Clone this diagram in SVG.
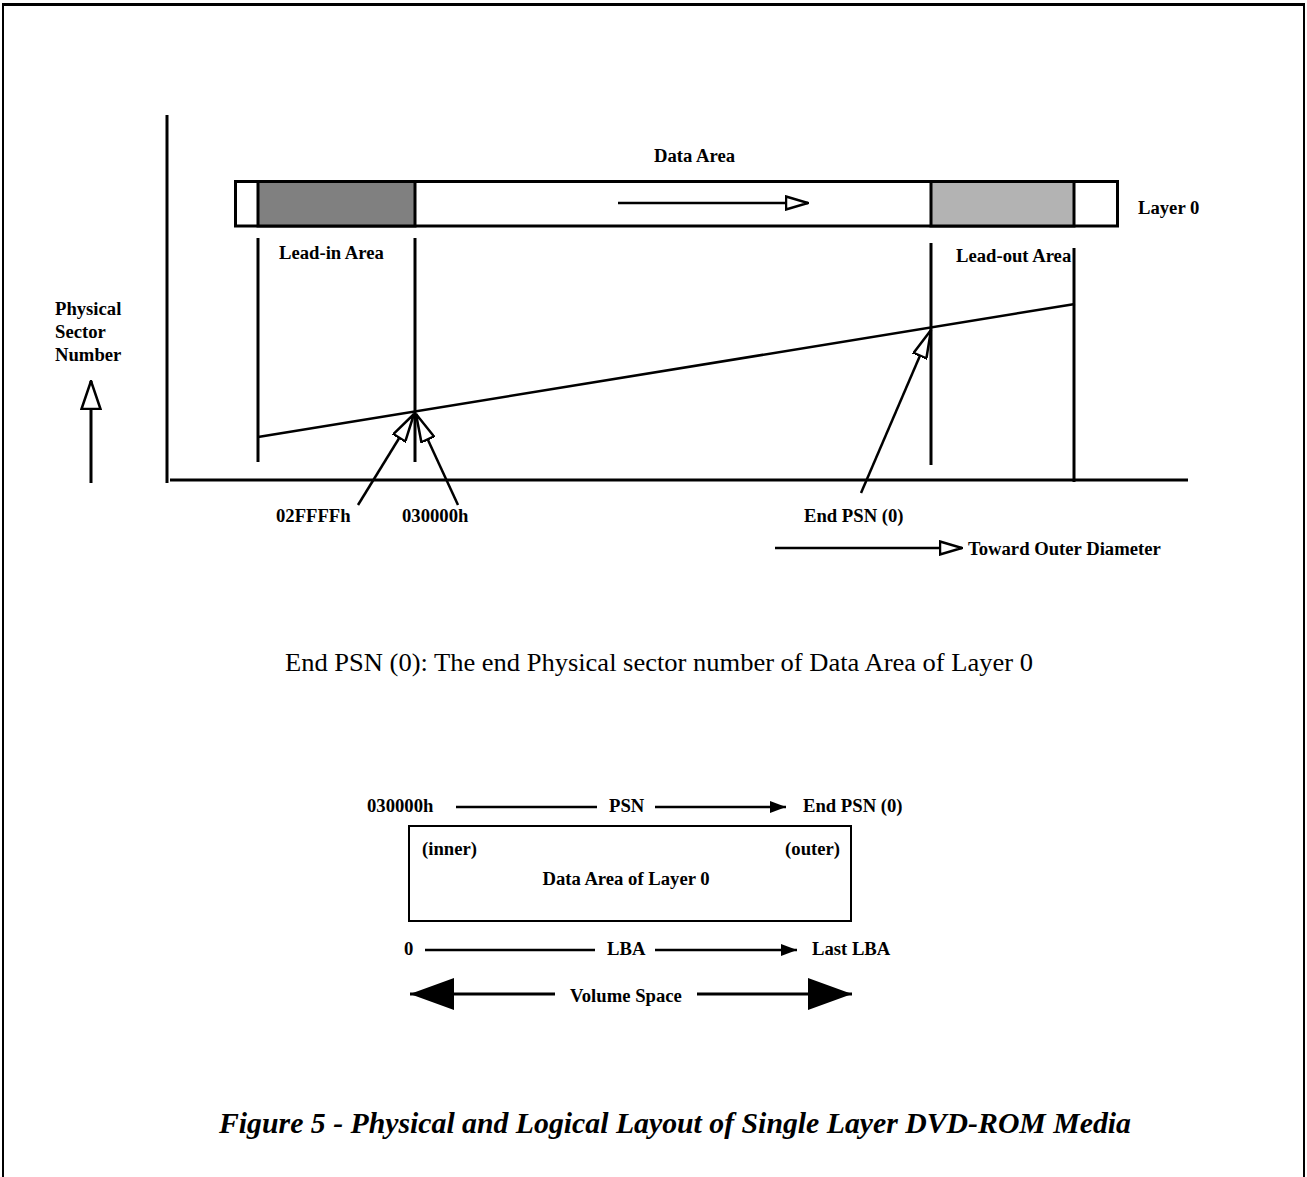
<svg xmlns="http://www.w3.org/2000/svg" width="1307" height="1177" viewBox="0 0 1307 1177">
  <defs>
    <style>
      .lbl { font-family: "Liberation Serif", "Times New Roman", serif; font-weight: bold; font-size: 18.67px; fill: #000; }
      .note { font-family: "Liberation Serif", "Times New Roman", serif; font-size: 26px; fill: #000; }
      .cap { font-family: "Liberation Serif", "Times New Roman", serif; font-weight: bold; font-style: italic; font-size: 29.33px; fill: #000; }
      .ln { stroke: #000; stroke-width: 3; fill: none; }
      .thin { stroke: #000; stroke-width: 2.5; fill: none; }
      .frame { stroke: #000; fill: none; }
    </style>
    <!-- open (hollow) arrowhead used on the upper chart -->
    <marker id="hollow" markerUnits="userSpaceOnUse" viewBox="0 0 30 16" refX="29" refY="8" markerWidth="30" markerHeight="16" orient="auto">
      <path d="M1,1 L29,8 L1,15 Z" fill="#fff" stroke="#000" stroke-width="2.5" stroke-linejoin="miter"/>
    </marker>
    <marker id="hollowSmall" markerUnits="userSpaceOnUse" viewBox="0 0 24 16" refX="23" refY="8" markerWidth="24" markerHeight="16" orient="auto">
      <path d="M1,1.5 L23,8 L1,14.5 Z" fill="#fff" stroke="#000" stroke-width="2.5"/>
    </marker>
    <marker id="hollowWide" markerUnits="userSpaceOnUse" viewBox="0 0 30 22" refX="29" refY="11" markerWidth="30" markerHeight="22" orient="auto">
      <path d="M1,1.5 L29,11 L1,20.5 Z" fill="#fff" stroke="#000" stroke-width="2.5"/>
    </marker>
    <!-- solid arrowheads for the lower address lines -->
    <marker id="solid" markerUnits="userSpaceOnUse" viewBox="0 0 16 12" refX="16" refY="6" markerWidth="16" markerHeight="12" orient="auto">
      <path d="M0,0 L16,6 L0,12 Z" fill="#000"/>
    </marker>
    <marker id="big" markerUnits="userSpaceOnUse" viewBox="0 0 44 32" refX="44" refY="16" markerWidth="44" markerHeight="32" orient="auto">
      <path d="M0,0 L44,16 L0,32 Z" fill="#000"/>
    </marker>
  </defs>

  <rect width="1307" height="1177" fill="#fff"/>

  <!-- page frame -->
  <g id="frame" class="frame">
    <line x1="2" y1="4.5" x2="1305" y2="4.5" stroke-width="3"/>
    <line x1="3" y1="4" x2="3" y2="1177" stroke-width="2"/>
    <line x1="1304" y1="4" x2="1304" y2="1177" stroke-width="2"/>
  </g>

  <!-- chart axes -->
  <g id="axes" class="ln">
    <line x1="167" y1="115" x2="167" y2="483"/>
    <line x1="170" y1="480" x2="1188" y2="480"/>
  </g>

  <!-- layer 0 track -->
  <g id="layer0">
    <rect x="235.5" y="181.5" width="882" height="44.5" fill="#fff" stroke="#000" stroke-width="3"/>
    <rect id="lead-in" x="258" y="181.5" width="157" height="44.5" fill="#808080" stroke="#000" stroke-width="3"/>
    <rect id="lead-out" x="931" y="181.5" width="143" height="44.5" fill="#b3b3b3" stroke="#000" stroke-width="3"/>
    <text class="lbl" x="654" y="162">Data Area</text>
    <text class="lbl" x="1138" y="214">Layer 0</text>
    <text class="lbl" x="279" y="259">Lead-in Area</text>
    <text class="lbl" x="956" y="262">Lead-out Area</text>
  </g>

  <!-- boundaries and PSN ramp -->
  <g id="connectors">
    <line class="ln" x1="258" y1="238" x2="258" y2="462"/>
    <line class="ln" x1="415" y1="238" x2="415" y2="462"/>
    <line class="ln" x1="931" y1="243" x2="931" y2="465"/>
    <line class="ln" x1="1074" y1="248" x2="1074" y2="482"/>
    <line class="thin" x1="258" y1="437" x2="1075" y2="304"/>
    <line class="thin" x1="618" y1="203" x2="808" y2="203" marker-end="url(#hollowSmall)"/>
    <line class="thin" x1="358" y1="505" x2="414" y2="414" marker-end="url(#hollow)"/>
    <line class="thin" x1="458" y1="505" x2="416" y2="414" marker-end="url(#hollow)"/>
    <line class="thin" x1="861" y1="493" x2="931" y2="330" marker-end="url(#hollow)"/>
    <line class="ln" x1="91" y1="483" x2="91" y2="381" marker-end="url(#hollowWide)"/>
    <line class="thin" x1="775" y1="548" x2="962" y2="548" marker-end="url(#hollowSmall)"/>
    <!-- address lines of the logical view -->
    <line class="thin" x1="456" y1="807" x2="597" y2="807"/>
    <line class="thin" x1="655" y1="807" x2="786" y2="807" marker-end="url(#solid)"/>
    <line class="thin" x1="425" y1="950" x2="595" y2="950"/>
    <line class="thin" x1="655" y1="950" x2="797" y2="950" marker-end="url(#solid)"/>
    <line class="ln" x1="555" y1="994" x2="410" y2="994" marker-end="url(#big)"/>
    <line class="ln" x1="697" y1="994" x2="852" y2="994" marker-end="url(#big)"/>
  </g>

  <!-- axis and pointer labels -->
  <g id="labels">
    <text class="lbl" x="55" y="315">Physical</text>
    <text class="lbl" x="55" y="338">Sector</text>
    <text class="lbl" x="55" y="361">Number</text>
    <text class="lbl" x="276" y="522">02FFFFh</text>
    <text class="lbl" x="402" y="522">030000h</text>
    <text class="lbl" x="804" y="522">End PSN (0)</text>
    <text class="lbl" x="968" y="555">Toward Outer Diameter</text>
  </g>

  <text id="legend" class="note" x="659" y="671" text-anchor="middle" textLength="748" lengthAdjust="spacingAndGlyphs">End PSN (0): The end Physical sector number of Data Area of Layer 0</text>

  <!-- logical layout block -->
  <g id="data-area">
    <rect x="409" y="826" width="442" height="95" fill="#fff" stroke="#000" stroke-width="2"/>
    <text class="lbl" x="422" y="855">(inner)</text>
    <text class="lbl" x="840" y="855" text-anchor="end">(outer)</text>
    <text class="lbl" x="626" y="885" text-anchor="middle">Data Area of Layer 0</text>
  </g>
  <g id="addr-labels">
    <text class="lbl" x="367" y="812">030000h</text>
    <text class="lbl" x="609" y="812">PSN</text>
    <text class="lbl" x="803" y="812">End PSN (0)</text>
    <text class="lbl" x="404" y="955">0</text>
    <text class="lbl" x="607" y="955">LBA</text>
    <text class="lbl" x="812" y="955">Last LBA</text>
    <text class="lbl" x="570" y="1002">Volume Space</text>
  </g>

  <text id="caption" class="cap" x="675" y="1133" text-anchor="middle" textLength="912" lengthAdjust="spacingAndGlyphs">Figure 5 - Physical and Logical Layout of Single Layer DVD-ROM Media</text>
</svg>
